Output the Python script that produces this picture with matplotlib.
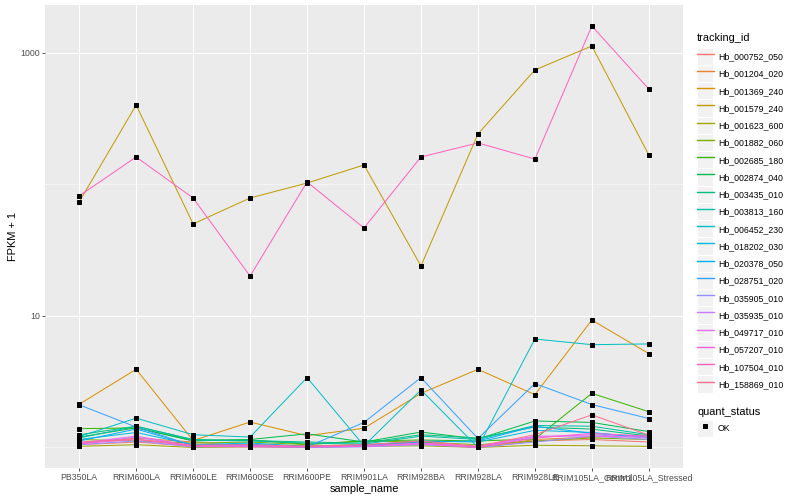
import matplotlib
matplotlib.use("Agg")
import matplotlib.pyplot as plt
from matplotlib.lines import Line2D
from matplotlib.patches import Rectangle
from matplotlib.legend_handler import HandlerLine2D
from matplotlib.ticker import FixedLocator, NullFormatter

plt.rcParams['font.family'] = ['Liberation Sans', 'DejaVu Sans']

# amostras (eixo x)
sample_name = ['PB350LA', 'RRIM600LA', 'RRIM600LE', 'RRIM600SE', 'RRIM600PE',
               'RRIM901LA', 'RRIM928BA', 'RRIM928LA', 'RRIM928LE',
               'RRIM105LA_Control', 'RRIM105LA_Stressed']

tracking_id = ['Hb_000752_050', 'Hb_001204_020', 'Hb_001369_240', 'Hb_001579_240',
               'Hb_001623_600', 'Hb_001882_060', 'Hb_002685_180', 'Hb_002874_040',
               'Hb_003435_010', 'Hb_003813_160', 'Hb_006452_230', 'Hb_018202_030',
               'Hb_020378_050', 'Hb_028751_020', 'Hb_035905_010', 'Hb_035935_010',
               'Hb_049717_010', 'Hb_057207_010', 'Hb_107504_010', 'Hb_158869_010']

# cores padrão do ggplot (hue_pal, 20 níveis)
cores = ['#F8766D', '#EA8331', '#D89000', '#C09B00', '#A3A500', '#7CAE00',
         '#39B600', '#00BB4E', '#00BF7D', '#00C1A3', '#00BFC4', '#00BAE0',
         '#00B0F6', '#35A2FF', '#9590FF', '#C77CFF', '#E76BF3', '#FA62DB',
         '#FF62BC', '#FF6C91']

# FPKM + 1 por gene (mesma ordem de sample_name)
fpkm = [
    [1.05, 1.10, 1.02, 1.03, 1.01, 1.04, 1.08, 1.00, 1.12, 1.15, 1.10],
    [1.08, 1.18, 1.10, 1.02, 1.03, 1.05, 1.10, 1.00, 1.15, 1.20, 1.25],
    [2.13, 3.93, 1.13, 1.56, 1.23, 1.40, 2.58, 3.93, 2.52, 9.32, 5.17],
    [73.6, 402.0, 50.1, 78.9, 102.6, 140.7, 24.0, 242.0, 743.0, 1130.0, 167.6],
    [1.02, 1.05, 1.00, 1.01, 1.00, 1.02, 1.03, 1.00, 1.04, 1.03, 1.02],
    [1.15, 1.12, 1.08, 1.10, 1.05, 1.12, 1.10, 1.05, 1.12, 1.18, 1.15],
    [1.39, 1.41, 1.13, 1.14, 1.06, 1.12, 1.14, 1.12, 1.16, 2.58, 1.87],
    [1.20, 1.41, 1.12, 1.15, 1.27, 1.10, 1.31, 1.16, 1.59, 1.55, 1.32],
    [1.25, 1.45, 1.15, 1.13, 1.10, 1.08, 1.25, 1.18, 1.43, 1.38, 1.22],
    [1.18, 1.45, 1.14, 1.12, 1.08, 1.06, 1.22, 1.15, 1.47, 1.45, 1.25],
    [1.21, 1.67, 1.25, 1.20, 3.40, 1.03, 2.74, 1.00, 6.68, 6.05, 6.13],
    [1.15, 1.30, 1.05, 1.08, 1.02, 1.04, 1.12, 1.10, 1.35, 1.30, 1.18],
    [1.12, 1.38, 1.04, 1.06, 1.01, 1.03, 1.10, 1.12, 1.45, 1.28, 1.20],
    [2.11, 1.43, 1.03, 1.04, 1.01, 1.55, 3.40, 1.17, 3.06, 2.12, 1.66],
    [1.05, 1.12, 1.01, 1.02, 1.00, 1.01, 1.05, 1.00, 1.10, 1.22, 1.15],
    [1.06, 1.20, 1.02, 1.02, 1.01, 1.02, 1.06, 1.01, 1.20, 1.25, 1.18],
    [1.08, 1.22, 1.03, 1.03, 1.02, 1.03, 1.08, 1.02, 1.22, 1.22, 1.20],
    [1.07, 1.15, 1.02, 1.01, 1.01, 1.02, 1.07, 1.00, 1.18, 1.28, 1.22],
    [81.8, 161.8, 78.9, 20.1, 104.5, 46.7, 161.8, 207.0, 156.0, 1604.0, 532.0],
    [1.10, 1.16, 1.04, 1.05, 1.02, 1.05, 1.12, 1.02, 1.25, 1.77, 1.24],
]


# chave da legenda com fundo cinza (estilo ggplot)
class ChaveFundo(HandlerLine2D):
    def create_artists(self, legend, orig_handle, xdescent, ydescent,
                       width, height, fontsize, trans):
        fundo = Rectangle((-xdescent + 0.5, -ydescent + 0.5), width - 1, height - 1,
                          facecolor='#F2F2F2', edgecolor='none',
                          transform=trans, zorder=0)
        artistas = super().create_artists(legend, orig_handle, xdescent, ydescent,
                                          width, height, fontsize, trans)
        return [fundo] + list(artistas)


fig = plt.figure(figsize=(800 / 72, 500 / 72), dpi=72)
ax = fig.add_axes([45 / 800, 1 - 468 / 500, (683 - 45) / 800, (468 - 5) / 500])
ax.set_facecolor('#EBEBEB')

x = list(range(len(sample_name)))
for gene, cor, valores in zip(tracking_id, cores, fpkm):
    ax.plot(x, valores, color=cor, lw=1.0, zorder=2)
for valores in fpkm:
    ax.plot(x, valores, ls='none', marker='s', ms=3.2, color='black', zorder=3)

ax.set_yscale('log')
ax.set_xlim(-0.6, len(sample_name) - 0.4)
ax.set_ylim(0.698, 2317)
ax.yaxis.set_major_locator(FixedLocator([10, 1000]))
ax.yaxis.set_minor_locator(FixedLocator([1, 100]))
ax.yaxis.set_minor_formatter(NullFormatter())
ax.set_yticklabels(['10', '1000'])
ax.set_xticks(x)
ax.set_xticklabels(sample_name)

ax.grid(True, which='major', color='white', lw=1.07)
ax.grid(True, which='minor', axis='y', color='white', lw=0.53)
ax.set_axisbelow(True)
for lado in ax.spines.values():
    lado.set_visible(False)
ax.tick_params(which='major', length=3, width=0.8, color='#333333',
               labelcolor='#4D4D4D', labelsize=8.8, pad=2)
ax.tick_params(which='minor', length=0)

ax.set_xlabel('sample_name', fontsize=11, labelpad=2)
ax.set_ylabel('FPKM + 1', fontsize=11, labelpad=2)

estilo_leg = dict(loc='upper left', frameon=False, fontsize=8.8, title_fontsize=11,
                  alignment='left', handlelength=1.93, handleheight=2.64,
                  labelspacing=0, handletextpad=0.45, borderpad=0,
                  borderaxespad=0, handler_map={Line2D: ChaveFundo()})

# legenda tracking_id
alcas = [Line2D([], [], color=c, lw=1.4) for c in cores]
leg1 = fig.legend(alcas, tracking_id, title='tracking_id',
                  bbox_to_anchor=(697 / 800, 1 - 33 / 500), **estilo_leg)
leg1._legend_box.sep = 5

# legenda quant_status
ponto = Line2D([], [], ls='none', marker='s', ms=3.2, color='black')
leg2 = fig.legend([ponto], ['OK'], title='quant_status', numpoints=1,
                  bbox_to_anchor=(697 / 800, 1 - 407 / 500), **estilo_leg)
leg2._legend_box.sep = 3

fig.savefig('out.png', dpi=72)
